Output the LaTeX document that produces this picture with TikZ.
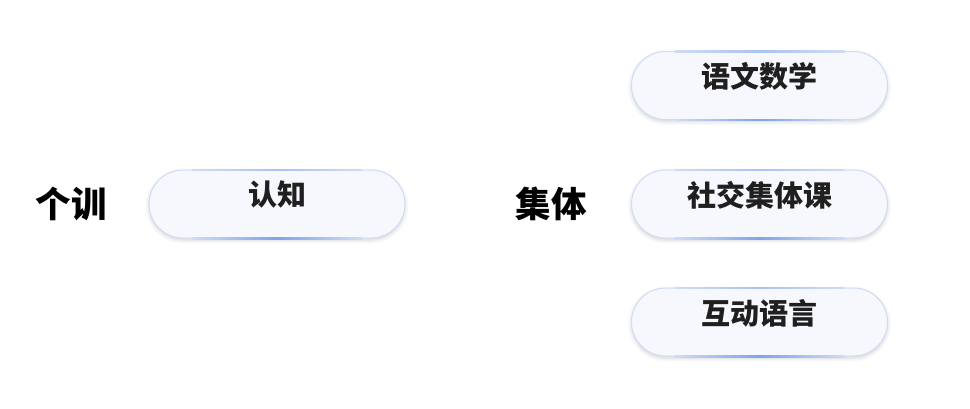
\documentclass[tikz,border=0pt]{standalone}
\usepackage{fontspec}
\newfontfamily\cjk{Noto Sans CJK SC}
\usetikzlibrary{shadows.blur}
\definecolor{pillfill}{HTML}{F6F8FD}
\definecolor{pilledge}{HTML}{CFDCF4}
\definecolor{pillglow}{HTML}{7EA4EA}
\tikzset{
  pill/.style={rounded corners=34pt, fill=pillfill, draw=pilledge, line width=1pt,
    minimum width=256pt, minimum height=68pt, inner sep=0pt,
    blur shadow={shadow xshift=0pt, shadow yshift=-2pt, shadow blur steps=6, shadow blur radius=4pt, shadow opacity=18}},
  pilltext/.style={font=\cjk\bfseries\fontsize{29}{32}\selectfont, text=black!88, inner sep=0pt},
  sidelabel/.style={font=\cjk\bfseries\fontsize{35.5}{38}\selectfont, text=black, inner sep=0pt}
}
\newcommand{\pillglowline}[1]{%
  \shade[left color=pilledge, right color=pilledge, middle color=pillglow]
    ([xshift=-85pt,yshift=-0.5pt]#1.south) rectangle ([xshift=85pt,yshift=1pt]#1.south);
  \shade[left color=pilledge, right color=pilledge, middle color=pillglow!45!pilledge]
    ([xshift=-85pt,yshift=-1pt]#1.north) rectangle ([xshift=85pt,yshift=0.5pt]#1.north);
}
\begin{document}
\begin{tikzpicture}[x=1pt,y=-1pt]
\useasboundingbox (0,0) rectangle (970,408);
\node[sidelabel] (geren) at (71,204) {个训};
\node[sidelabel] (jiti) at (551,204) {集体};
\node[pill] (renzhi) at (277,204) {};
\node[pill] (yuwen) at (759.5,85.5) {};
\node[pill] (shejiao) at (759.5,204) {};
\node[pill] (hudong) at (759.5,322) {};
\pillglowline{renzhi}
\pillglowline{yuwen}
\pillglowline{shejiao}
\pillglowline{hudong}
\node[pilltext] (t1) at ([yshift=9pt]renzhi.center) {认知};
\node[pilltext] (t2) at ([yshift=9pt]yuwen.center) {语文数学};
\node[pilltext] (t3) at ([yshift=9pt]shejiao.center) {社交集体课};
\node[pilltext] (t4) at ([yshift=9pt]hudong.center) {互动语言};
\end{tikzpicture}
\end{document}
